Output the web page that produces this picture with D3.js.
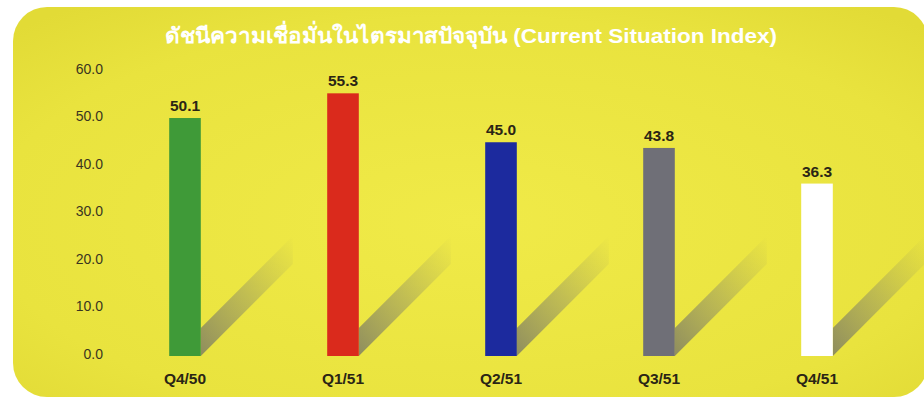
<!DOCTYPE html>
<html><head><meta charset="utf-8">
<script src="https://cdn.jsdelivr.net/npm/d3@7"></script>
<style>html,body{margin:0;padding:0;background:#fff;}svg{display:block;}</style>
</head><body>
<script>
const categories = ["Q4/50","Q1/51","Q2/51","Q3/51","Q4/51"];
const values = [50.1, 55.3, 45.0, 43.8, 36.3];
const barColors = ["#3f9a38","#da2a1c","#1c2a9e","#6f6f77","#ffffff"];
const yTicks = [0,10,20,30,40,50,60];
const title = "ดัชนีความเชื่อมั่นในไตรมาสปัจจุบัน (Current Situation Index)";

const W = 924, H = 401;
const svg = d3.select("body").append("svg").attr("width", W).attr("height", H);
const defs = svg.append("defs");

const bg = defs.append("radialGradient").attr("id","bg").attr("cx","50%").attr("cy","55%").attr("r","70%");
bg.append("stop").attr("offset","0%").attr("stop-color","#f0ea48");
bg.append("stop").attr("offset","75%").attr("stop-color","#e9e33e");
bg.append("stop").attr("offset","100%").attr("stop-color","#e2db36");

const sh = defs.append("linearGradient").attr("id","sh").attr("x1","0").attr("y1","1").attr("x2","1").attr("y2","0");
sh.append("stop").attr("offset","0%").attr("stop-color","#707068").attr("stop-opacity",0.75);
sh.append("stop").attr("offset","50%").attr("stop-color","#80806a").attr("stop-opacity",0.4);
sh.append("stop").attr("offset","100%").attr("stop-color","#909060").attr("stop-opacity",0.0);

svg.append("rect").attr("x",13).attr("y",7).attr("width",915).attr("height",390)
  .attr("rx",34).attr("ry",34).attr("fill","url(#bg)");

svg.append("text").attr("x",471).attr("y",43).attr("text-anchor","middle")
  .attr("font-family","'Liberation Sans', Arial, 'DejaVu Sans', sans-serif")
  .attr("font-weight","bold").attr("font-size",21).attr("fill","#ffffff")
  .attr("textLength",612).attr("lengthAdjust","spacingAndGlyphs")
  .text(title);

const x = d3.scaleBand().domain(categories).range([106, 896]).paddingInner(0.8).paddingOuter(0.4);
const y = d3.scaleLinear().domain([0,60]).range([356, 71]);

// y axis labels
const yAxis = d3.axisLeft(y).tickValues(yTicks).tickFormat(d3.format(".1f")).tickSize(0).tickPadding(0);
const ga = svg.append("g").attr("transform","translate(103,0)").call(yAxis);
ga.select(".domain").remove();
ga.selectAll("text").attr("font-family","'Liberation Sans', Arial, sans-serif")
  .attr("font-size",14).attr("fill","#3a3520").attr("dy","0.32em").attr("transform","translate(0,-2)");

const data = categories.map((c,i)=>({c, v: values[i], col: barColors[i]}));
const bw = x.bandwidth();
const L = 92, T = 28;

// shadows
svg.append("g").selectAll("path").data(data).join("path")
  .attr("d", d => {
    const xr = x(d.c) + bw, yb = y(0);
    return `M${xr},${yb} L${xr+L},${yb-L} L${xr+L},${yb-L-T} L${xr},${yb-T} Z`;
  })
  .attr("fill","url(#sh)");

// bars
svg.append("g").selectAll("rect").data(data).join("rect")
  .attr("x", d => x(d.c)).attr("y", d => y(d.v))
  .attr("width", bw).attr("height", d => y(0) - y(d.v))
  .attr("fill", d => d.col);

// value labels
svg.append("g").selectAll("text").data(data).join("text")
  .attr("x", d => x(d.c) + bw/2).attr("y", d => y(d.v) - 7)
  .attr("text-anchor","middle")
  .attr("font-family","'Liberation Sans', Arial, sans-serif").attr("font-weight","bold")
  .attr("font-size",15.5).attr("fill","#2a2515")
  .text(d => d3.format(".1f")(d.v));

// category labels
const xAxis = d3.axisBottom(x).tickSize(0).tickPadding(0);
const gx = svg.append("g").attr("transform","translate(0,384)").call(xAxis);
gx.select(".domain").remove();
gx.selectAll("text").attr("font-family","'Liberation Sans', Arial, sans-serif").attr("font-weight","bold")
  .attr("font-size",15.5).attr("fill","#2a2515").attr("dy","0");
</script>
</body></html>
